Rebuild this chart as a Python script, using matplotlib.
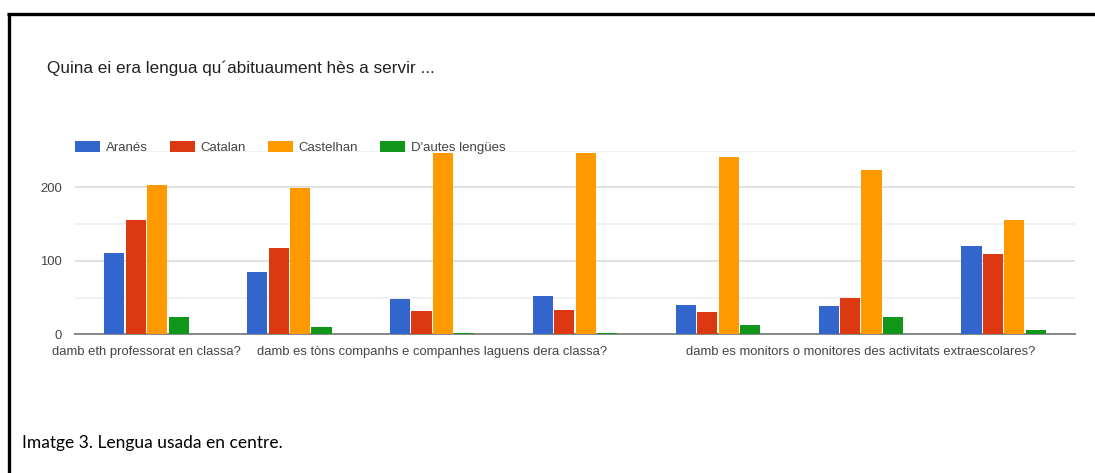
import numpy as np
import matplotlib
matplotlib.use("Agg")
from matplotlib import pyplot as plt
from matplotlib.lines import Line2D

# question groups (only some labels are shown in the original chart)
groups = [
    "damb eth professorat en classa?",
    "",
    "damb es tòns companhs e companhes laguens dera classa?",
    "",
    "",
    "damb es monitors o monitores des activitats extraescolares?",
    "",
]
series = ["Aranés", "Catalan", "Castelhan", "D'autes lengües"]

aranes = [111, 85, 48, 52, 40, 38, 120]
catalan = [155, 118, 32, 33, 30, 49, 109]
castelhan = [203, 199, 246, 247, 241, 224, 156]
autes = [23, 10, 2, 2, 13, 23, 6]

colors = ["#3366cc", "#dc3912", "#ff9900", "#109618"]

plt.rcParams["font.family"] = ["Liberation Sans", "DejaVu Sans"]

fig = plt.figure(figsize=(10.95, 4.73), dpi=100)
W, H = 1095, 473

# axes placed in pixel terms of the original picture
x0, x1 = 75, 1075
y_top, y_bot = 150.5, 334.3
ax = fig.add_axes([x0 / W, 1 - y_bot / H, (x1 - x0) / W, (y_bot - y_top) / H])

x = np.arange(len(groups))
w = 0.15
values = [aranes, catalan, castelhan, autes]
for i, (vals, name) in enumerate(zip(values, series)):
    # a little narrower than the spacing leaves a thin white gap between bars
    ax.bar(x + (i - 1.5) * w, vals, width=w * 0.94, color=colors[i], label=name,
           linewidth=0, zorder=3)

ax.set_xlim(-0.5, len(groups) - 0.5)
ax.set_ylim(0, 250)

# gridlines: labelled every 100, lighter every 50
ax.set_yticks([0, 100, 200])
ax.set_yticks([50, 150, 250], minor=True)
ax.grid(axis="y", which="major", color="#d9d9d9", linewidth=1.1, zorder=0)
ax.grid(axis="y", which="minor", color="#eeeeee", linewidth=1.1, zorder=0)
ax.axhline(0, color="#888888", linewidth=1.4, zorder=2, clip_on=False)

ax.set_xticks(x)
ax.set_xticklabels(groups)
ax.tick_params(axis="both", which="both", length=0, labelsize=9.4, labelcolor="#444444")
ax.tick_params(axis="y", pad=9.5)
ax.tick_params(axis="x", pad=8.5)

for s in ax.spines.values():
    s.set_visible(False)

leg = ax.legend(loc="center left", bbox_to_anchor=(75 / W, 1 - 147.5 / H),
                bbox_transform=fig.transFigure, ncol=4, frameon=False,
                fontsize=9.5, handlelength=1.9, handleheight=0.9,
                handletextpad=0.45, columnspacing=1.64, borderaxespad=0,
                borderpad=0)
for t in leg.get_texts():
    t.set_color("#444444")

fig.text(47 / W, 1 - 68 / H, "Quina ei era lengua qu\u00b4abituaument hès a servir ...",
         fontsize=12.3, color="#222222", va="center", ha="left")

fig.text(22 / W, 1 - 443 / H, "Imatge 3. Lengua usada en centre.",
         family=["Lato", "DejaVu Sans"], fontsize=12.5, color="#000000",
         va="center", ha="left")

# black frame lines (top and left) of the source document
fig.add_artist(Line2D([7 / W, 1], [1 - 14.5 / H, 1 - 14.5 / H], color="black",
                      linewidth=2.4, solid_capstyle="butt", transform=fig.transFigure))
fig.add_artist(Line2D([8.7 / W, 8.7 / W], [0, 1 - 13 / H], color="black",
                      linewidth=2.4, solid_capstyle="butt", transform=fig.transFigure))

fig.savefig("out.png", dpi=100)
